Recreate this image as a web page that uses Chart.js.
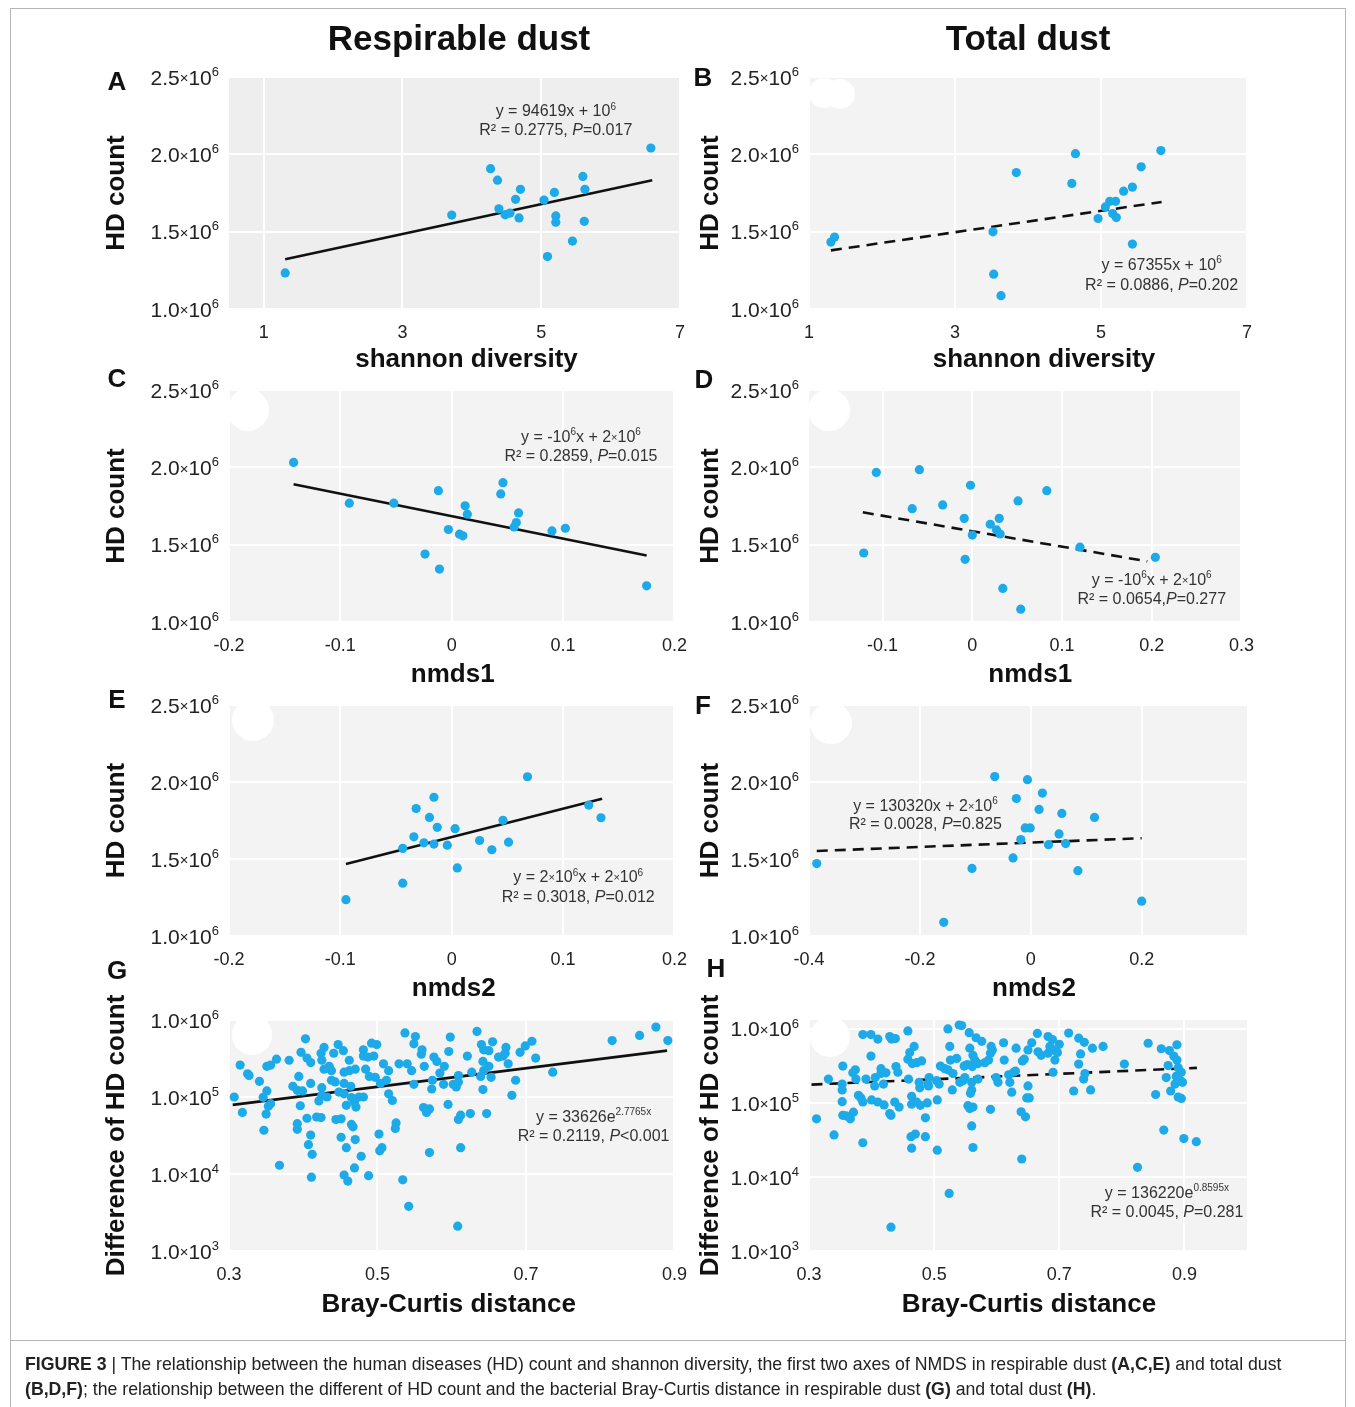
<!DOCTYPE html>
<html>
<head>
<meta charset="utf-8">
<script src="https://cdn.jsdelivr.net/npm/chart.js@4.4.1/dist/chart.umd.min.js"></script>
<style>
  html, body { margin: 0; padding: 0; background: #fff; overflow: hidden; }
  #fig { position: relative; width: 1355px; height: 1407px; font-family: "Liberation Sans", Arial, Helvetica, sans-serif; color: #111; }
  #fig canvas { position: absolute; }
  .frame { position: absolute; left: 10px; top: 8px; width: 1334px; height: 1420px; border: 1px solid #b5b5b5; }
  .rule { position: absolute; left: 10px; top: 1340px; width: 1336px; height: 1px; background: #b5b5b5; }
  .coltitle { position: absolute; top: 18px; width: 400px; line-height: 40px; font-size: 35px; font-weight: bold; text-align: center; }
  .letter { position: absolute; width: 30px; line-height: 30px; font-size: 26px; font-weight: bold; text-align: center; }
  .caption { position: absolute; left: 25px; top: 1352px; font-size: 17.7px; line-height: 25px; color: #222; white-space: nowrap; }
</style>
</head>
<body>
<div id="fig">
  <div id="charts"></div>
  <div class="frame"></div>
  <div class="rule"></div>
  <div class="coltitle" style="left:259px">Respirable dust</div>
  <div class="coltitle" style="left:828px">Total dust</div>
  <div class="letter" style="left:102px;top:66px">A</div>
  <div class="letter" style="left:688px;top:62px">B</div>
  <div class="letter" style="left:102px;top:363px">C</div>
  <div class="letter" style="left:689px;top:364px">D</div>
  <div class="letter" style="left:102px;top:684px">E</div>
  <div class="letter" style="left:688px;top:690px">F</div>
  <div class="letter" style="left:102px;top:955px">G</div>
  <div class="letter" style="left:701px;top:953px">H</div>
  <div class="caption"><b>FIGURE 3</b> | The relationship between the human diseases (HD) count and shannon diversity, the first two axes of NMDS in respirable dust <b>(A,C,E)</b> and total dust<br><b>(B,D,F)</b>; the relationship between the different of HD count and the bacterial Bray-Curtis distance in respirable dust <b>(G)</b> and total dust <b>(H)</b>.</div>
</div>
<script>
'use strict';

const FONT = '"Liberation Sans", Arial, Helvetica, sans-serif';
const DOT = '#1caae8';

// ---- points, [x, y] ----
const aPts = [[1.31,1233000],[3.71,1607000],[4.27,1907000],[4.37,1833000],[4.39,1648000],[4.48,1609000],[4.55,1620000],
  [4.63,1709000],[4.68,1589000],[4.70,1774000],[5.04,1704000],[5.09,1339000],[5.19,1754000],[5.21,1602000],[5.21,1561000],
  [5.45,1439000],[5.60,1857000],[5.62,1567000],[5.63,1774000],[6.58,2041000]];
const bPts = [[1.30,1433000],[1.35,1465000],[3.52,1499000],[3.53,1225000],[3.63,1086000],[3.84,1882000],[4.60,1812000],
  [4.65,2004000],[4.96,1585000],[5.06,1660000],[5.12,1696000],[5.20,1696000],[5.16,1617000],[5.21,1591000],[5.31,1762000],
  [5.43,1788000],[5.43,1420000],[5.55,1919000],[5.82,2024000]];
const cPts = [[-0.142,2032000],[-0.092,1768000],[-0.052,1768000],[-0.024,1439000],[-0.012,1849000],[-0.011,1342000],
  [-0.003,1598000],[0.007,1568000],[0.010,1557000],[0.012,1751000],[0.014,1697000],[0.044,1828000],[0.046,1901000],
  [0.056,1615000],[0.058,1643000],[0.060,1705000],[0.090,1589000],[0.102,1606000],[0.175,1234000]];
const dPts = [[-0.121,1446000],[-0.107,1967000],[-0.067,1733000],[-0.059,1985000],[-0.033,1757000],[-0.009,1670000],
  [-0.008,1405000],[-0.002,1884000],[0.000,1562000],[0.020,1632000],[0.027,1595000],[0.030,1670000],[0.031,1569000],
  [0.034,1217000],[0.051,1783000],[0.054,1083000],[0.083,1849000],[0.120,1484000],[0.204,1418000]];
const ePts = [[-0.095,1236000],[-0.044,1343000],[-0.044,1569000],[-0.034,1644000],[-0.032,1828000],[-0.025,1605000],
  [-0.020,1770000],[-0.016,1901000],[-0.016,1597000],[-0.013,1706000],[-0.004,1590000],[0.003,1697000],[0.005,1442000],
  [0.025,1620000],[0.036,1560000],[0.046,1751000],[0.051,1609000],[0.068,2034000],[0.123,1850000],[0.134,1768000]];
const fPts = [[-0.386,1470000],[-0.157,1089000],[-0.106,1439000],[-0.065,2035000],[-0.032,1507000],[-0.026,1893000],
  [-0.018,1626000],[-0.010,1702000],[-0.006,2015000],[-0.001,1702000],[0.015,1822000],[0.021,1928000],[0.032,1593000],
  [0.051,1663000],[0.056,1796000],[0.063,1600000],[0.085,1424000],[0.115,1770000],[0.200,1226000]];
const gPts = [
  [0.403,5.7e5],[0.537,6.8e5],[0.551,6.1e5],[0.598,6.0e5],[0.634,7.1e5],[0.875,8.1e5],[0.853,6.3e5],[0.816,5.4e5],[0.891,5.4e5],
  [0.447,4.8e5],[0.499,4.8e5],[0.492,5.0e5],[0.655,5.2e5],[0.708,5.3e5],[0.640,4.8e5],[0.673,4.4e5],[0.699,4.6e5],[0.549,4.9e5],
  [0.428,4.4e5],[0.454,4.0e5],[0.481,4.1e5],[0.441,3.7e5],[0.397,3.8e5],[0.424,3.7e5],[0.560,4.1e5],[0.596,3.9e5],[0.643,4.1e5],
  [0.650,4.0e5],[0.672,3.7e5],[0.692,3.8e5],[0.713,3.2e5],[0.621,3.4e5],[0.576,3.3e5],[0.559,3.6e5],[0.405,3.2e5],[0.315,2.6e5],
  [0.364,3.1e5],[0.381,3.0e5],[0.356,2.6e5],[0.351,2.5e5],[0.410,2.8e5],[0.425,3.0e5],[0.462,3.0e5],[0.481,3.4e5],[0.487,3.3e5],
  [0.495,3.4e5],[0.508,2.7e5],[0.529,2.7e5],[0.540,2.7e5],[0.580,2.9e5],[0.642,2.9e5],[0.676,2.7e5],[0.650,2.5e5],[0.663,3.3e5],
  [0.669,3.4e5],[0.435,2.5e5],
  [0.325,2.0e5],[0.327,1.9e5],[0.341,1.6e5],[0.394,1.85e5],[0.428,2.3e5],[0.438,2.2e5],[0.455,2.1e5],[0.462,2.2e5],[0.470,2.3e5],
  [0.484,2.3e5],[0.489,1.85e5],[0.497,1.8e5],[0.515,2.2e5],[0.546,2.2e5],[0.563,2.5e5],[0.590,2.5e5],[0.584,2.05e5],[0.609,1.9e5],
  [0.627,2.1e5],[0.643,2.2e5],[0.653,1.8e5],[0.639,1.85e5],[0.736,2.1e5],[0.686,1.65e5],[0.410,1.5e5],[0.443,1.57e5],[0.455,1.5e5],
  [0.464,1.38e5],[0.504,1.5e5],[0.512,1.65e5],[0.549,1.46e5],[0.574,1.65e5],[0.589,1.46e5],[0.602,1.46e5],[0.606,1.35e5],
  [0.609,1.57e5],[0.573,1.27e5],[0.438,1.65e5],[0.425,1.32e5],
  [0.351,1.2e5],[0.307,1.0e5],[0.346,9.9e4],[0.356,8.2e4],[0.386,1.38e5],[0.392,1.22e5],[0.399,1.2e5],[0.425,1.05e5],[0.432,1.0e5],
  [0.421,8.9e4],[0.448,1.16e5],[0.455,1.1e5],[0.465,9.8e4],[0.475,1.0e5],[0.481,1.0e5],[0.469,8.6e4],[0.471,7.4e4],[0.458,7.8e4],
  [0.515,1.1e5],[0.520,9.0e4],[0.642,1.25e5],[0.681,1.05e5],[0.595,8.0e4],[0.396,7.7e4],[0.353,7.6e4],[0.318,6.3e4],
  [0.350,6.0e4],[0.405,5.3e4],[0.418,5.5e4],[0.424,5.4e4],[0.444,5.1e4],[0.451,5.2e4],[0.465,4.4e4],[0.467,4.1e4],[0.562,7.3e4],
  [0.570,7.0e4],[0.566,6.3e4],[0.612,5.8e4],[0.609,5.1e4],[0.625,6.1e4],[0.647,6.1e4],[0.525,4.6e4],[0.524,3.9e4],[0.392,4.5e4],
  [0.392,3.8e4],[0.347,3.7e4],[0.451,3.0e4],[0.470,2.8e4],[0.502,3.3e4],[0.410,3.2e4],
  [0.407,2.4e4],[0.412,1.8e4],[0.458,2.2e4],[0.506,2.2e4],[0.503,2.0e4],[0.612,2.2e4],[0.570,1.9e4],[0.478,1.7e4],[0.368,1.3e4],
  [0.469,1.2e4],[0.411,9.1e3],[0.455,9.7e3],[0.460,8.1e3],[0.488,9.5e3],[0.534,8.4e3],[0.542,3.8e3],[0.608,2.1e3]];
const hPts = [
  [0.540,1.13e6],[0.544,1.11e6],[0.522,1.0e6],[0.458,9.4e5],[0.386,8.4e5],[0.399,8.4e5],[0.410,7.3e5],[0.429,7.9e5],[0.432,7.3e5],
  [0.438,7.4e5],[0.556,8.9e5],[0.567,7.6e5],[0.576,6.8e5],[0.665,8.7e5],[0.682,7.9e5],[0.689,7.2e5],[0.715,8.8e5],[0.731,7.5e5],
  [0.740,6.6e5],[0.611,6.5e5],[0.656,6.5e5],[0.700,6.2e5],[0.842,6.4e5],[0.888,6.1e5],[0.770,5.8e5],[0.753,5.5e5],[0.631,5.5e5],
  [0.685,5.8e5],[0.468,5.8e5],[0.557,5.5e5],[0.525,5.8e5],[0.591,5.8e5],
  [0.399,4.3e5],[0.461,4.8e5],[0.458,3.9e5],[0.480,3.7e5],[0.465,3.4e5],[0.472,3.5e5],[0.863,5.4e5],[0.876,5.1e5],[0.883,4.3e5],
  [0.888,3.8e5],[0.734,4.6e5],[0.666,4.9e5],[0.671,4.4e5],[0.690,5.2e5],[0.697,4.8e5],[0.693,3.8e5],[0.682,4.7e5],[0.590,4.7e5],
  [0.587,3.8e5],[0.593,5.2e5],[0.562,4.4e5],[0.565,3.8e5],[0.570,3.4e5],[0.581,3.5e5],[0.612,3.8e5],[0.804,3.35e5],[0.731,3.35e5],
  [0.641,3.7e5],[0.644,3.9e5],[0.526,3.8e5],[0.536,4.0e5],[0.548,3.15e5],[0.553,3.3e5],[0.561,3.1e5],[0.510,3.15e5],[0.517,2.9e5],
  [0.354,3.15e5],[0.415,2.9e5],[0.423,2.55e5],[0.439,3.1e5],[0.442,2.6e5],[0.374,2.8e5],[0.370,2.55e5],[0.650,5.2e5],
  [0.331,2.1e5],[0.375,2.1e5],[0.391,2.1e5],[0.406,2.2e5],[0.415,2.5e5],[0.459,2.1e5],[0.492,2.2e5],[0.504,2.0e5],[0.508,1.8e5],
  [0.490,1.8e5],[0.522,2.8e5],[0.530,2.5e5],[0.549,2.2e5],[0.541,1.9e5],[0.560,1.9e5],[0.570,2.1e5],[0.599,2.2e5],[0.619,2.4e5],
  [0.627,2.6e5],[0.630,2.7e5],[0.690,2.6e5],[0.739,2.1e5],[0.741,2.5e5],[0.874,3.2e5],[0.890,3.0e5],[0.895,2.6e5],[0.871,2.2e5],
  [0.887,2.3e5],[0.894,2.0e5],[0.897,1.9e5],[0.885,1.8e5],[0.546,2.0e5],[0.476,1.9e5],[0.405,1.7e5],[0.419,1.8e5],[0.353,1.8e5],
  [0.602,1.9e5],[0.621,1.9e5],[0.650,1.7e5],
  [0.353,1.5e5],[0.723,1.45e5],[0.750,1.5e5],[0.854,1.3e5],[0.878,1.45e5],[0.624,1.4e5],[0.648,1.17e5],[0.652,1.17e5],[0.529,1.5e5],
  [0.560,1.5e5],[0.558,1.35e5],[0.491,1.7e5],[0.477,1.6e5],[0.379,1.27e5],[0.383,1.17e5],[0.386,1.03e5],[0.400,1.1e5],[0.410,1.03e5],
  [0.353,1.04e5],[0.420,9.4e4],[0.444,8.8e4],[0.437,1.03e5],[0.464,1.23e5],[0.464,9.6e4],[0.472,1.03e5],[0.478,9.3e4],[0.489,1.0e5],
  [0.505,1.1e5],[0.554,9.2e4],[0.557,8.4e4],[0.562,8.8e4],[0.590,8.2e4],[0.890,1.2e5],[0.895,1.15e5],
  [0.312,6.1e4],[0.354,6.8e4],[0.359,6.7e4],[0.366,6.1e4],[0.371,7.5e4],[0.429,7.2e4],[0.431,6.8e4],[0.486,6.3e4],[0.639,7.6e4],
  [0.646,6.5e4],[0.560,4.9e4],[0.340,3.7e4],[0.470,3.8e4],[0.463,3.5e4],[0.486,3.5e4],[0.867,4.3e4],[0.899,3.3e4],[0.919,3.0e4],
  [0.386,2.9e4],[0.464,2.45e4],[0.505,2.3e4],[0.562,2.5e4],[0.640,1.75e4],[0.825,1.35e4],[0.524,6.0e3],[0.431,2.1e3]];

// ---- fitted lines, end points as drawn ----
const aFit = [[1.31,1322000],[6.60,1833000]];
const bFit = [[1.30,1379000],[5.83,1692000]];
const cFit = [[-0.142,1890000],[0.175,1430000]];
const dFit = [[-0.122,1709000],[0.195,1392000]];
const eFit = [[-0.095,1468000],[0.135,1891000]];
const fFit = [[-0.386,1552000],[0.200,1635000]];
const gFit = [[0.305,79000],[0.890,400000]];
const hFit = [[0.304,177000],[0.920,298000]];

// ---- tick values ----
const shannonTicks = [1, 3, 5, 7];
const nmdsRespTicks = [-0.2, -0.1, 0, 0.1, 0.2];
const nmds1TotalTicks = [-0.1, 0, 0.1, 0.2, 0.3];
const nmds2TotalTicks = [-0.4, -0.2, 0, 0.2];
const brayTicks = [0.3, 0.5, 0.7, 0.9];
const hdTicks = [1e6, 1.5e6, 2e6, 2.5e6];
const diffTicks = [1e3, 1e4, 1e5, 1e6];

// ---- regression labels (^{} superscript, *{} italic, ~{} small) ----
const aEq = ['y = 94619x + 10^{6}', 'R² = 0.2775, *{P}=0.017'];
const bEq = ['y = 67355x + 10^{6}', 'R² = 0.0886, *{P}=0.202'];
const cEq = ['y = -10^{6}x + 2~{×}10^{6}', 'R² = 0.2859, *{P}=0.015'];
const dEq = ['y = -10^{6}x + 2~{×}10^{6}', 'R² = 0.0654,*{P}=0.277'];
const eEq = ['y = 2~{×}10^{6}x + 2~{×}10^{6}', 'R² = 0.3018, *{P}=0.012'];
const fEq = ['y = 130320x + 2~{×}10^{6}', 'R² = 0.0028, *{P}=0.825'];
const gEq = ['y = 33626e^{2.7765x}', 'R² = 0.2119, *{P}<0.001'];
const hEq = ['y = 136220e^{0.8595x}', 'R² = 0.0045, *{P}=0.281'];

/* ------------------------------------------------------------ */

const COLS = [
  { plotLeft: 229, plotRight: 680, axisW: 128 },
  { plotLeft: 809, plotRight: 1247, axisW: 114 },
];
// padTop leaves room for y titles longer than the plot
const ROWS = [
  { top: 77, bottom: 309, padTop: 16 }, { top: 390, bottom: 622, padTop: 16 },
  { top: 705, bottom: 936, padTop: 16 }, { top: 1020, bottom: 1251, padTop: 48 },
];
const PAD_RIGHT = 20, X_AXIS_H = 70;

// xTitle offset from plot centre / plot bottom: [dx, dy]
const panels = [
  { col: 0, row: 0, pts: aPts, fit: aFit, dash: false, x: [0.5, 7], xt: shannonTicks, y: [1e6, 2.5e6], yt: hdTicks,
    xTitle: 'shannon diversity', xtOff: [12, 51], yTitle: 'HD count', bg: '#eeeeee', blots: [], eq: aEq, eqAt: [5.21, 2.283e6], gap: 19 },
  { col: 1, row: 0, pts: bPts, fit: bFit, dash: true, x: [1, 7], xt: shannonTicks, y: [1e6, 2.5e6], yt: hdTicks,
    xTitle: 'shannon diversity', xtOff: [16, 51], yTitle: 'HD count', bg: '#f3f3f3', blots: [[15, 16, 15], [31, 17, 15]], eq: bEq, eqAt: [5.83, 1.289e6], gap: 20 },
  { col: 0, row: 1, pts: cPts, fit: cFit, dash: false, x: [-0.2, 0.2], xt: nmdsRespTicks, y: [1e6, 2.5e6], yt: hdTicks,
    xTitle: 'nmds1', xtOff: [1, 53], yTitle: 'HD count', bg: '#f3f3f3', blots: [[19, 20, 21]], eq: cEq, eqAt: [0.116, 2.204e6], gap: 19 },
  { col: 1, row: 1, pts: dPts, fit: dFit, dash: true, x: [-0.182, 0.3], xt: nmds1TotalTicks, y: [1e6, 2.5e6], yt: hdTicks,
    xTitle: 'nmds1', xtOff: [5, 53], yTitle: 'HD count', bg: '#f3f3f3', blots: [[20, 20, 21]], eq: dEq, eqAt: [0.200, 1.278e6], gap: 19 },
  { col: 0, row: 2, pts: ePts, fit: eFit, dash: false, x: [-0.2, 0.2], xt: nmdsRespTicks, y: [1e6, 2.5e6], yt: hdTicks,
    xTitle: 'nmds2', xtOff: [2, 53], yTitle: 'HD count', bg: '#f3f3f3', blots: [[24, 15, 21]], eq: eEq, eqAt: [0.1136, 1.386e6], gap: 20 },
  { col: 1, row: 2, pts: fPts, fit: fFit, dash: true, x: [-0.4, 0.39], xt: nmds2TotalTicks, y: [1e6, 2.5e6], yt: hdTicks,
    xTitle: 'nmds2', xtOff: [6, 53], yTitle: 'HD count', bg: '#f3f3f3', blots: [[22, 18, 21]], eq: fEq, eqAt: [-0.190, 1.848e6], gap: 18 },
  { col: 0, row: 3, pts: gPts, fit: gFit, dash: false, x: [0.3, 0.9], xt: brayTicks, y: [1e3, 1e6], yt: diffTicks, log: true,
    xTitle: 'Bray-Curtis distance', xtOff: [-3, 54], yTitle: 'Difference of HD count', bg: '#f3f3f3', blots: [[23, 15, 20]], eq: gEq, eqAt: [0.791, 5.6e4], gap: 19 },
  { col: 1, row: 3, pts: hPts, fit: hFit, dash: true, x: [0.3, 1.0], xt: brayTicks, y: [1e3, 1.32e6], yt: diffTicks, log: true,
    xTitle: 'Bray-Curtis distance', xtOff: [1, 54], yTitle: 'Difference of HD count', bg: '#f3f3f3', blots: [[21, 17, 20]], eq: hEq, eqAt: [0.872, 6.2e3], gap: 19 },
];

// tiny rich-text writer for superscripts / italics
function richSegs(str) {
  const out = [];
  str.replace(/([\^*~])\{([^}]*)\}|([^\^*~]+)/g, (m, k, inner, plain) => {
    out.push(plain !== undefined ? { t: plain } : { t: inner, k });
    return m;
  });
  return out;
}
function segFont(s, size) {
  if (s.k === '^') return `${Math.round(size * 0.62)}px ${FONT}`;
  if (s.k === '~') return `${Math.round(size * 0.7)}px ${FONT}`;
  if (s.k === '*') return `italic ${size}px ${FONT}`;
  return `${size}px ${FONT}`;
}
function drawRich(ctx, str, x, y, size, align, color) {
  const segs = richSegs(str);
  let w = 0;
  for (const s of segs) { ctx.font = segFont(s, size); s.w = ctx.measureText(s.t).width; w += s.w; }
  let cx = align === 'right' ? x - w : align === 'center' ? x - w / 2 : x;
  const base = y + size * 0.36;
  ctx.save();
  ctx.fillStyle = color;
  ctx.textAlign = 'left';
  ctx.textBaseline = 'alphabetic';
  for (const s of segs) {
    ctx.font = segFont(s, size);
    const rise = s.k === '^' ? size * 0.42 : s.k === '~' ? size * 0.06 : 0;
    ctx.fillText(s.t, cx, base - rise);
    cx += s.w;
  }
  ctx.restore();
}

function yTickText(p, v) {
  if (p.log) return '1.0~{×}10^{' + Math.round(Math.log10(v)) + '}';
  return (v / 1e6).toFixed(1) + '~{×}10^{6}';
}

function decor(p) {
  return {
    id: 'decor',
    beforeDraw(chart) {
      const { ctx, chartArea: a } = chart;
      ctx.save();
      ctx.fillStyle = p.bg;
      ctx.fillRect(a.left, a.top, a.right - a.left, a.bottom - a.top);
      ctx.fillStyle = '#ffffff';
      for (const [dx, dy, r] of p.blots) {
        ctx.beginPath();
        ctx.arc(a.left + dx, a.top + dy, r, 0, Math.PI * 2);
        ctx.fill();
      }
      ctx.restore();
    },
    afterDatasetsDraw(chart) {
      const px = chart.scales.x.getPixelForValue(p.eqAt[0]);
      const py = chart.scales.y.getPixelForValue(p.eqAt[1]);
      p.eq.forEach((line, i) => drawRich(chart.ctx, line, px, py + i * p.gap, 16, 'center', '#333'));
    },
    afterDraw(chart) {
      const { ctx, chartArea: a } = chart;
      const ys = chart.scales.y;
      for (const t of ys.ticks)
        drawRich(ctx, yTickText(p, t.value), a.left - 10, ys.getPixelForValue(t.value), 21, 'right', '#222');
      // x-axis title, nudged like the original layout
      ctx.save();
      ctx.font = `bold 26px ${FONT}`;
      ctx.fillStyle = '#111';
      ctx.textAlign = 'center';
      ctx.textBaseline = 'middle';
      ctx.fillText(p.xTitle, (a.left + a.right) / 2 + p.xtOff[0], a.bottom + p.xtOff[1]);
      ctx.restore();
    },
  };
}

Chart.defaults.font.family = FONT;
Chart.defaults.color = '#222';

const holder = document.getElementById('charts');
for (const p of panels) {
  const c = COLS[p.col], r = ROWS[p.row];
  const cv = document.createElement('canvas');
  cv.width = c.axisW + (c.plotRight - c.plotLeft) + PAD_RIGHT;
  cv.height = r.padTop + (r.bottom - r.top) + X_AXIS_H;
  cv.style.left = (c.plotLeft - c.axisW) + 'px';
  cv.style.top = (r.top - r.padTop) + 'px';
  cv.style.width = cv.width + 'px';
  cv.style.height = cv.height + 'px';
  holder.appendChild(cv);

  const titleFont = { family: FONT, size: 26, weight: 'bold' };
  new Chart(cv, {
    type: 'scatter',
    data: {
      datasets: [
        { data: p.pts.map(([x, y]) => ({ x, y })), pointBackgroundColor: DOT, pointBorderWidth: 0, pointRadius: 4.6, clip: false },
        { data: p.fit.map(([x, y]) => ({ x, y })), showLine: true, borderColor: '#111', borderWidth: 2.6,
          borderDash: p.dash ? [11, 7] : [], pointRadius: 0, clip: false },
      ],
    },
    options: {
      responsive: false, animation: false, events: [], devicePixelRatio: 1,
      layout: { padding: { left: 0, right: PAD_RIGHT, top: r.padTop, bottom: 0 } },
      plugins: { legend: { display: false }, tooltip: { enabled: false } },
      scales: {
        x: {
          type: 'linear', min: p.x[0], max: p.x[1],
          afterBuildTicks: ax => { ax.ticks = p.xt.map(v => ({ value: v })); },
          afterFit: ax => { ax.height = X_AXIS_H; },
          grid: { color: '#ffffff', lineWidth: 2, drawTicks: false },
          border: { display: false },
          ticks: { color: '#222', font: { size: 18 }, padding: 13, maxRotation: 0, autoSkip: false,
                   callback: v => String(Math.round(v * 100) / 100) },
          title: { display: false },
        },
        y: {
          type: p.log ? 'logarithmic' : 'linear', min: p.y[0], max: p.y[1],
          afterBuildTicks: ax => { ax.ticks = p.yt.map(v => ({ value: v })); },
          afterFit: ax => { ax.width = c.axisW; },
          grid: { color: '#ffffff', lineWidth: 2, drawTicks: false },
          border: { display: false },
          ticks: { display: false },
          title: { display: true, text: p.yTitle, color: '#111', font: titleFont, padding: { top: 0, bottom: 0 } },
        },
      },
    },
    plugins: [decor(p)],
  });
}
</script>
</body>
</html>
